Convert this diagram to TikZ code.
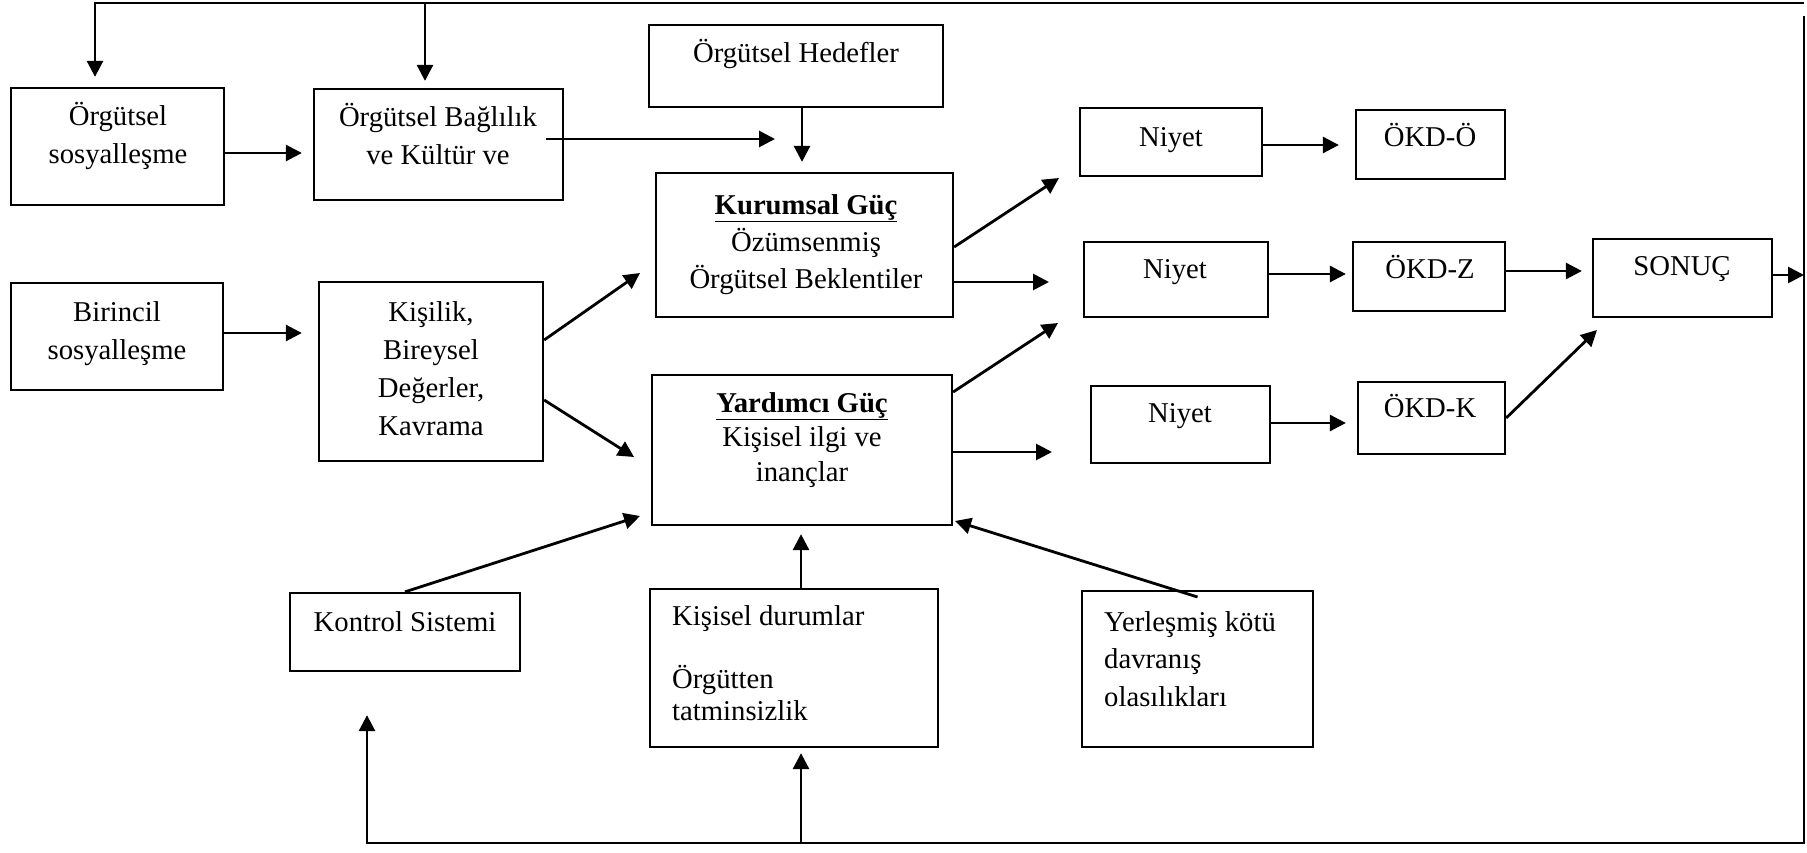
\documentclass[tikz,border=0pt]{standalone}
\usepackage{fontspec}
\setmainfont{Liberation Serif}
\usetikzlibrary{arrows.meta,fit,calc}

\begin{document}
\begin{tikzpicture}[x=1pt,y=-1pt,
  box/.style={draw, line width=2.3pt, inner sep=0pt},
  % multi-line texts are placed by the baseline of their last line
  txt/.style={inner sep=0pt, anchor=base, align=center, font=\fontsize{28.7}{38}\selectfont},
  ltxt/.style={txt, anchor=base west, align=left},
  arr/.style={line width=2.8pt, -{Triangle[length=16pt,width=16pt]}}]
\useasboundingbox (0,0) rectangle (1807,853);

% boxes
\node[box, fit={(11,88) (224,205)}]    (os)   {};
\node[box, fit={(314,89) (563,200)}]   (bag)  {};
\node[box, fit={(649,25) (943,107)}]   (hed)  {};
\node[box, fit={(656,173) (953,317)}]  (kur)  {};
\node[box, fit={(11,283) (223,390)}]   (bir)  {};
\node[box, fit={(319,282) (543,461)}]  (kis)  {};
\node[box, fit={(652,375) (952,525)}]  (yar)  {};
\node[box, fit={(1080,108) (1262,176)}] (n1)  {};
\node[box, fit={(1356,110) (1505,179)}] (okdo) {};
\node[box, fit={(1084,242) (1268,317)}] (n2)  {};
\node[box, fit={(1353,242) (1505,311)}] (okdz) {};
\node[box, fit={(1593,239) (1772,317)}] (son) {};
\node[box, fit={(1091,386) (1270,463)}] (n3)  {};
\node[box, fit={(1358,382) (1505,454)}] (okdk) {};
\node[box, fit={(290,593) (520,671)}]  (kon)  {};
\node[box, fit={(650,589) (938,747)}]  (kd)   {};
\node[box, fit={(1082,591) (1313,747)}] (yer) {};

% texts
\node[txt] (os-t)   at (118,164)  {Örgütsel\\sosyalleşme};
\node[txt] (bag-t)  at (438,165)  {Örgütsel Bağlılık\\ve Kültür ve};
\node[txt] (hed-t)  at (796,63)   {Örgütsel Hedefler};
\node[txt, font=\fontsize{28.7}{37}\selectfont] (kur-t) at (806,288)
      {\textbf{\underline{Kurumsal Güç}}\\Özümsenmiş\\Örgütsel Beklentiler};
\node[txt] (bir-t)  at (117,359)  {Birincil\\sosyalleşme};
\node[txt] (kis-t)  at (431,435)  {Kişilik,\\Bireysel\\Değerler,\\Kavrama};
\node[txt, font=\fontsize{28.7}{34.5}\selectfont] (yar-t) at (802,481)
      {\textbf{\underline{Yardımcı Güç}}\\Kişisel ilgi ve\\inançlar};
\node[txt] (n1-t)   at (1171,147) {Niyet};
\node[txt] (okdo-t) at (1430,147) {ÖKD-Ö};
\node[txt] (n2-t)   at (1175,278) {Niyet};
\node[txt] (okdz-t) at (1430,278) {ÖKD-Z};
\node[txt] (son-t)  at (1682,276) {SONUÇ};
\node[txt] (n3-t)   at (1180,422) {Niyet};
\node[txt] (okdk-t) at (1430,417) {ÖKD-K};
\node[txt] (kon-t)  at (405,631)  {Kontrol Sistemi};
\node[ltxt, font=\fontsize{28.7}{32}\selectfont] (kd-t) at (672,720)
      {Kişisel durumlar\\[31pt]Örgütten\\tatminsizlik};
\node[ltxt, font=\fontsize{28.7}{37.5}\selectfont] (yer-t) at (1104,706)
      {Yerleşmiş kötü\\davranış\\olasılıkları};

% feedback frame
\coordinate (tl) at (95,3);
\coordinate (tb) at (425,3);
\coordinate (tr) at (1804,3);
\coordinate (rt) at (1804,16);
\coordinate (br) at (1804,843);
\coordinate (bm) at (801,843);
\coordinate (bl) at (367,843);
\coordinate (hk) at (802,0);
\draw[arr, shorten >=10pt] (tr) -- (tl) -- (tl |- os.north);
\draw[arr, shorten >=7pt] (tb) -- (tb |- bag.north);
\draw[arr, shorten >=43pt] (rt) -- (br) -- (bl) -- (bl |- kon.south);
\draw[arr, shorten >=5pt] (bm) -- (bm |- kd.south);
\draw[arr, shorten >=8pt] (bm |- kd.north) -- (bm |- yar.south);

% free arrow ends
\coordinate (t7)  at (775,139);
\coordinate (t9)  at (640,273);
\coordinate (t10) at (634,457);
\coordinate (t11) at (640,516);
\coordinate (t12) at (955,521);
\coordinate (t13) at (1059,178);
\coordinate (t14) at (1049,282);
\coordinate (t15) at (1058,323);
\coordinate (t16) at (1052,452);
\coordinate (t21) at (1597,330);

% connectors
\draw[arr, shorten >=10pt] (hk |- hed.south) -- (hk |- kur.north);
\draw[arr, shorten >=11pt] (os.east |- 0,153) -- (bag.west |- 0,153);
\draw[arr] ($(bag.east |- t7)+(-18,0)$) -- (t7);
\draw[arr, shorten >=16pt] (bir.east |- 0,333) -- (kis.west |- 0,333);
\draw[arr] (kis.east |- 0,340) -- (t9);
\draw[arr] (kis.east |- 0,400) -- (t10);
\draw[arr] (kon.north) -- (t11);
\draw[arr] (yer.north |- 0,597) -- (t12);
\draw[arr] (kur.east |- 0,247) -- (t13);
\draw[arr] (kur.east |- 0,282) -- (t14);
\draw[arr] (yar.east |- 0,392) -- (t15);
\draw[arr] (yar.east |- 0,452) -- (t16);
\draw[arr, shorten >=16pt] (n1.east |- 0,145) -- (okdo.west |- 0,145);
\draw[arr, shorten >=6pt] (n2.east |- 0,274) -- (okdz.west |- 0,274);
\draw[arr, shorten >=10pt] (okdz.east |- 0,271) -- (son.west |- 0,271);
\draw[arr, shorten >=11pt] (n3.east |- 0,423) -- (okdk.west |- 0,423);
\draw[arr] (okdk.east |- 0,418) -- (t21);
\draw[arr] (son.east |- 0,275) -- (rt |- 0,275);
\end{tikzpicture}
\end{document}
